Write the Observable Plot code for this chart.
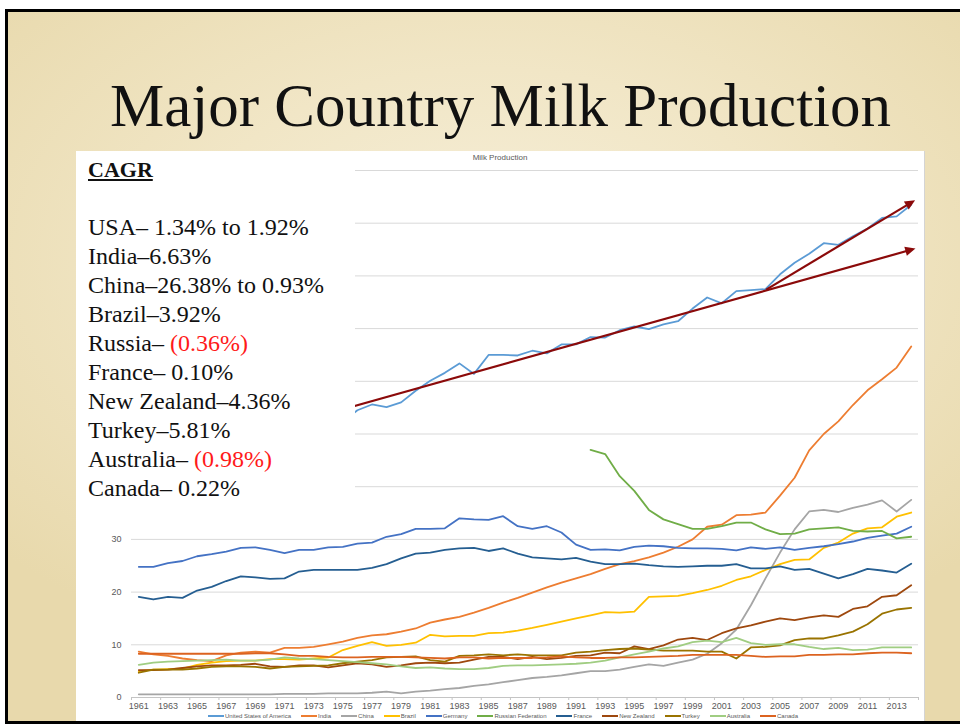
<!DOCTYPE html>
<html><head><meta charset="utf-8">
<script src="https://cdn.jsdelivr.net/npm/d3@7"></script>
<script src="https://cdn.jsdelivr.net/npm/@observablehq/plot@0.6"></script>
<style>
html,body{margin:0;padding:0;}
body{width:960px;height:724px;overflow:hidden;position:relative;background:#fff;}
#slide{position:absolute;left:5px;top:9px;width:960px;height:709px;border-left:3px solid #000;border-top:3px solid #000;border-bottom:3px solid #000;
  background: radial-gradient(ellipse 70% 60% at 50% 35%, #F6EFD9 0%, #F1E6C6 45%, #E8D9AC 100%);}
#title{position:absolute;left:0;width:1001px;top:75px;line-height:61px;text-align:center;font-family:"Liberation Serif",serif;font-size:61px;color:#111;white-space:nowrap;}
#chartbg{position:absolute;left:76px;top:151px;width:848px;height:570px;background:#fff;border-right:1px solid #d4d4d4;}
#plot{position:absolute;left:0;top:0;}
#ctitle{position:absolute;left:0;width:1000px;top:153px;text-align:center;font-family:"Liberation Sans",sans-serif;font-size:8px;color:#595959;}
#box{position:absolute;left:76px;top:151px;width:279px;height:379px;background:#fff;}
#cagr{position:absolute;left:88px;top:155px;font-family:"Liberation Serif",serif;font-size:24px;line-height:29px;color:#111;white-space:nowrap;}
#cagr .h{font-weight:bold;text-decoration:underline;font-size:22px;}
#cagr .neg{color:#ff1a1a;}
#legend{position:absolute;left:76px;width:854px;top:713px;display:flex;justify-content:center;gap:10px;font-family:"Liberation Sans",sans-serif;font-size:6px;color:#595959;}
#legend .it{display:flex;align-items:center;gap:1px;}
#legend .sw{display:inline-block;width:16px;height:2px;}
</style>
</head><body>
<div id="slide"></div>
<div id="title">Major Country Milk Production</div>
<div id="chartbg"></div>
<div id="plot"></div>
<div id="ctitle">Milk Production</div>
<div id="box"></div>
<div id="cagr"></div>
<div id="legend"></div>
<script>
const years = [1961,1962,1963,1964,1965,1966,1967,1968,1969,1970,1971,1972,1973,1974,1975,1976,1977,1978,1979,1980,
  1981,1982,1983,1984,1985,1986,1987,1988,1989,1990,1991,1992,1993,1994,1995,1996,1997,1998,1999,2000,
  2001,2002,2003,2004,2005,2006,2007,2008,2009,2010,2011,2012,2013,2014];
const yearLabels = [1961,1963,1965,1967,1969,1971,1973,1975,1977,1979,1981,1983,1985,1987,1989,1991,1993,1995,1997,1999,2001,2003,2005,2007,2009,2011,2013];
const gridTicks = [10,20,30,40,50,60,70,80,90,100];
const yLabelTicks = [0,10,20,30]; // the higher labels sit under the CAGR box

const countries = ["United States of America","India","China","Brazil","Germany","Russian Federation","France","New Zealand","Turkey","Australia","Canada"];
const colors = ["#5B9BD5","#ED7D31","#A5A5A5","#FFC000","#4472C4","#70AD47","#255E91","#9E480E","#997300","#A0CD82","#DC6320"];

const usa = [56.6,57.0,56.4,57.2,56.0,54.2,53.5,53.2,52.7,53.1, 53.8,54.5,52.5,52.4,52.3,54.5,55.6,55.1,56.0,58.2,
  60.1,61.6,63.4,61.4,65.0,65.0,64.9,65.8,65.3,67.0, 67.0,68.4,68.3,69.7,70.4,69.9,70.8,71.4,73.8,75.9,
  74.8,77.1,77.3,77.5,80.3,82.5,84.2,86.2,85.9,87.5, 89.0,91.0,91.3,93.5];
const india = [8.7,8.2,7.9,7.4,7.1,6.9,8.0,8.5,8.7,8.5, 9.4,9.4,9.6,10.1,10.6,11.3,11.8,12.0,12.5,13.1,
  14.2,14.8,15.3,16.1,17.0,18.0,18.9,19.9,20.9,21.8, 22.6,23.4,24.4,25.3,25.9,26.6,27.5,28.6,30.0,32.4,
  32.8,34.6,34.7,35.1,38.3,41.7,46.9,50.0,52.4,55.5, 58.3,60.4,62.6,66.6];
const china = [0.6,0.6,0.6,0.6,0.6,0.6,0.6,0.6,0.6,0.6, 0.7,0.7,0.7,0.8,0.8,0.8,0.9,1.1,0.8,1.1,
  1.3,1.6,1.8,2.2,2.5,2.9,3.3,3.7,3.9,4.2, 4.6,5.0,5.0,5.3,5.8,6.3,6.0,6.6,7.2,8.3,
  10.3,12.9,17.5,22.6,27.5,31.9,35.3,35.6,35.2,36.0, 36.6,37.4,35.3,37.5];
const brazil = [5.0,5.3,5.4,5.5,6.2,6.6,6.9,7.0,7.0,7.3, 7.3,7.2,7.4,7.6,9.0,9.8,10.5,9.8,10.0,10.4,
  11.9,11.6,11.7,11.7,12.2,12.3,12.7,13.2,13.8,14.4, 15.0,15.6,16.2,16.1,16.3,19.1,19.2,19.3,19.8,20.4,
  21.2,22.3,23.0,24.2,25.3,26.1,26.2,28.4,29.4,31.1, 32.1,32.3,34.3,35.1];
const germany = [24.8,24.8,25.5,25.9,26.8,27.2,27.7,28.4,28.5,28.0, 27.4,28.0,28.0,28.5,28.6,29.2,29.4,30.5,31.0,32.0,
  32.0,32.1,34.0,33.8,33.7,34.4,32.5,32.0,32.5,31.3, 29.0,28.0,28.1,27.9,28.6,28.8,28.7,28.4,28.3,28.3,
  28.2,27.9,28.5,28.2,28.5,28.0,28.4,28.7,29.1,29.6, 30.3,30.7,31.1,32.4];
const russia = [null,null,null,null,null,null,null,null,null,null, null,null,null,null,null,null,null,null,null,null,
  null,null,null,null,null,null,null,null,null,null, null,47.0,46.2,42.0,39.2,35.6,33.8,32.9,32.0,32.0,
  32.5,33.2,33.2,31.9,31.0,31.1,31.9,32.1,32.3,31.6, 31.5,31.6,30.2,30.5];
const france = [19.1,18.6,19.1,18.9,20.3,21.0,22.1,23.0,22.8,22.5, 22.6,23.9,24.2,24.2,24.2,24.2,24.6,25.3,26.4,27.3,
  27.5,28.0,28.3,28.4,27.8,28.3,27.3,26.6,26.4,26.2, 26.5,25.8,25.3,25.3,25.4,25.1,24.9,24.8,24.9,25.0,
  25.0,25.3,24.5,24.5,24.9,24.2,24.4,23.5,22.6,23.4, 24.4,24.1,23.7,25.4];
const newZealand = [5.2,5.2,5.3,5.6,5.9,6.1,6.1,6.2,6.4,5.9, 5.8,6.1,6.1,5.7,6.1,6.5,6.3,5.8,6.1,6.5,
  6.6,6.5,6.6,7.2,7.7,7.7,7.3,7.7,7.3,7.5, 7.9,8.0,8.5,8.4,9.7,9.2,9.9,11.0,11.3,10.9,
  12.2,13.1,13.7,14.4,15.0,14.7,15.2,15.6,15.3,16.8, 17.3,19.1,19.4,21.3];
const turkey = [4.7,5.3,5.3,5.3,5.5,5.8,5.9,5.9,5.8,5.5, 5.8,5.9,6.0,6.1,6.5,6.8,7.1,7.6,7.7,7.8,
  7.1,6.8,7.9,8.0,8.2,8.0,8.2,8.0,8.0,8.0, 8.5,8.7,9.0,9.2,9.3,9.1,8.9,8.9,8.9,8.7,
  8.7,7.4,9.5,9.6,9.9,10.9,11.2,11.2,11.8,12.5, 13.9,15.9,16.7,17.0];
const australia = [6.2,6.6,6.8,6.9,7.0,7.1,7.2,7.0,7.0,7.2, 7.6,7.4,7.3,7.1,6.9,6.7,6.5,6.3,5.9,5.6,
  5.7,5.5,5.4,5.4,5.6,6.0,6.1,6.1,6.2,6.3, 6.4,6.6,7.0,7.6,8.2,8.7,9.3,9.7,10.5,10.8,
  10.5,11.3,10.3,10.0,10.1,10.1,9.6,9.2,9.4,9.0, 9.1,9.5,9.5,9.5];
const canada = [8.3,8.3,8.3,8.3,8.3,8.3,8.3,8.3,8.4,8.4, 8.2,7.9,7.9,7.7,7.6,7.6,7.7,7.7,7.7,7.6,
  7.5,7.4,7.6,7.6,7.4,7.5,7.5,7.5,7.6,7.8, 7.6,7.5,7.5,7.6,7.6,7.7,7.8,7.9,8.1,8.1,
  8.1,8.1,7.9,7.7,7.8,7.8,8.1,8.1,8.2,8.2, 8.4,8.5,8.5,8.4];

const series = [usa,india,china,brazil,germany,russia,france,newZealand,turkey,australia,canada];

// trend arrows drawn over the USA series (year, value)
const trendArrows = [
  {x1: 1970, y1: 50.8, x2: 2014.05, y2: 85.0},
  {x1: 2004.05, y1: 77.4, x2: 2014.05, y2: 94.0}
];

const cagrLines = [
  ["USA\u2013 1.34% to 1.92%", null],
  ["India\u20136.63%", null],
  ["China\u201326.38% to 0.93%", null],
  ["Brazil\u20133.92%", null],
  ["Russia\u2013 ", "(0.36%)"],
  ["France\u2013 0.10%", null],
  ["New Zealand\u20134.36%", null],
  ["Turkey\u20135.81%", null],
  ["Australia\u2013 ", "(0.98%)"],
  ["Canada\u2013 0.22%", null]
];

const rows = [];
countries.forEach((c, i) => series[i].forEach((v, j) => { if (v != null) rows.push({country: c, year: years[j], value: v}); }));

const tickBounds = yearLabels.map(y => y - 0.5).concat([2014.5]);

const chart = Plot.plot({
  width: 960, height: 724,
  marginLeft: 131, marginRight: 42, marginTop: 170, marginBottom: 27,
  x: {domain: [1960.5, 2014.5]},
  y: {domain: [0, 100]},
  color: {domain: countries, range: colors},
  style: {background: "transparent", fontFamily: "Liberation Sans, sans-serif", fontSize: "9px", color: "#595959"},
  marks: [
    Plot.gridY({ticks: gridTicks, stroke: "#d9d9d9", strokeOpacity: 1, strokeWidth: 1}),
    Plot.ruleY([0], {stroke: "#c4c4c4", strokeWidth: 1}),
    Plot.axisY({ticks: yLabelTicks, tickSize: 0, tickPadding: 10, label: null}),
    Plot.axisX({ticks: yearLabels, tickSize: 0, tickPadding: 5, tickFormat: d => String(d), label: null}),
    Plot.axisX({ticks: tickBounds, tickSize: 3, tickFormat: () => "", label: null, stroke: "#c4c4c4"}),
    Plot.line(rows, {x: "year", y: "value", z: "country", stroke: "country", strokeWidth: 1.8}),
    Plot.link(trendArrows, {x1: "x1", y1: "y1", x2: "x2", y2: "y2", stroke: "#8B0A0A", strokeWidth: 2.2, markerEnd: "arrow"})
  ]
});
chart.querySelectorAll("marker").forEach(m => {
  m.setAttribute("fill", "#8B0A0A");
  m.setAttribute("stroke", "none");
  const p = m.querySelector("path");
  if (p) p.setAttribute("d", "M-4.5,-3.2L2.5,0L-4.5,3.2Z");
});
document.getElementById("plot").appendChild(chart);

// CAGR text
const cagr = document.getElementById("cagr");
let html = '<div class="h">CAGR</div><div>&nbsp;</div>';
cagrLines.forEach(([a, neg]) => {
  html += "<div>" + a + (neg ? '<span class="neg">' + neg + "</span>" : "") + "</div>";
});
cagr.innerHTML = html;

// legend
const legend = document.getElementById("legend");
countries.forEach((c, i) => {
  const it = document.createElement("div");
  it.className = "it";
  it.innerHTML = '<span class="sw" style="background:' + colors[i] + '"></span><span>' + c + "</span>";
  legend.appendChild(it);
});
</script>
</body></html>
